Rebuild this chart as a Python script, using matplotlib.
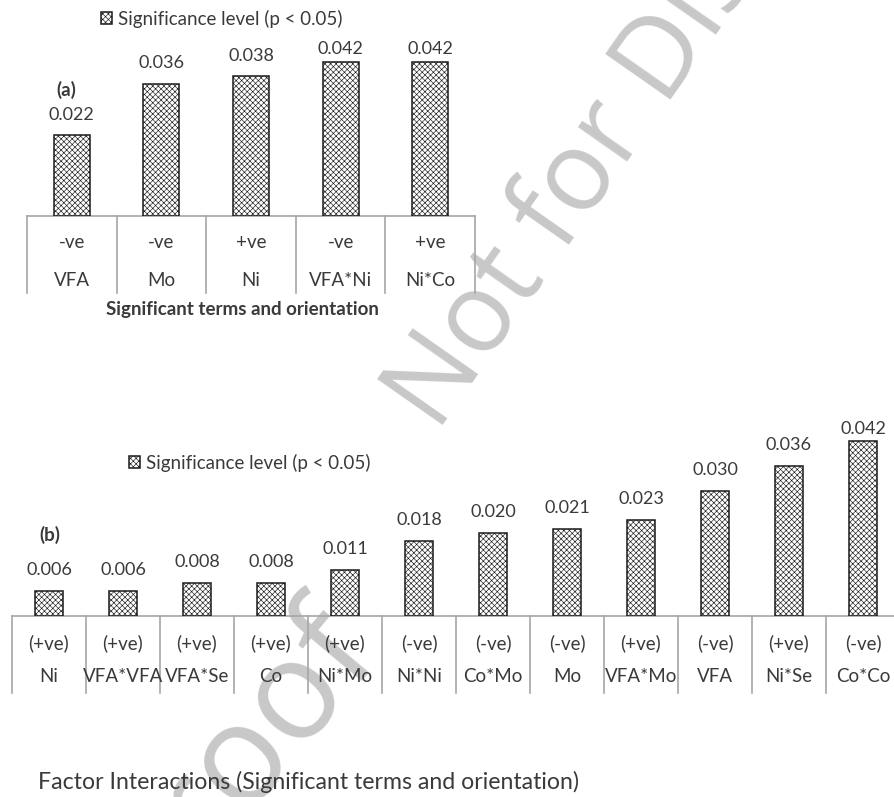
import matplotlib
matplotlib.use('Agg')
import matplotlib.pyplot as plt
import matplotlib.transforms as mtransforms

# ---------------- data ----------------
terms_a = ['VFA', 'Mo', 'Ni', 'VFA*Ni', 'Ni*Co']
signs_a = ['-ve', '-ve', '+ve', '-ve', '+ve']
pvals_a = [0.022, 0.036, 0.038, 0.042, 0.042]

terms_b = ['Ni', 'VFA*VFA', 'VFA*Se', 'Co', 'Ni*Mo', 'Ni*Ni', 'Co*Mo', 'Mo',
           'VFA*Mo', 'VFA', 'Ni*Se', 'Co*Co']
signs_b = ['(+ve)', '(+ve)', '(+ve)', '(+ve)', '(+ve)', '(-ve)', '(-ve)', '(-ve)',
           '(+ve)', '(-ve)', '(+ve)', '(-ve)']
pvals_b = [0.006, 0.006, 0.008, 0.008, 0.011, 0.018, 0.020, 0.021, 0.023,
           0.030, 0.036, 0.042]

legend_label = 'Significance level (p < 0.05)'
title_a = 'Significant terms and orientation'
title_bottom = 'Factor Interactions (Significant terms and orientation)'

# ---------------- style ----------------
plt.rcParams['font.family'] = ['Lato', 'DejaVu Sans']
plt.rcParams['hatch.linewidth'] = 0.45
plt.rcParams['hatch.color'] = '#2a2a2a'
TXT = '#3a3a3a'
GRID = '#a6a6a6'
FS = 13.5
FS_VAL = 13

W, H = 895, 797
fig = plt.figure(figsize=(W / 100, H / 100), dpi=100)


def px_axes(left, top, right, bottom):
    ax = fig.add_axes([left / W, 1 - bottom / H, (right - left) / W, (bottom - top) / H])
    ax.patch.set_visible(False)
    return ax, bottom - top


def fx(x):
    return x / W


def fy(y):
    return 1 - y / H


# watermark (behind everything)
wm = dict(color='#c8c8c8', family=['Open Sans', 'DejaVu Sans'], zorder=-5,
          rotation_mode='anchor', ha='left', va='baseline')
fig.text(fx(437), fy(433), 'Not for Distribution', fontsize=80, rotation=55, **wm)
fig.text(fx(150), fy(920), 'proof', fontsize=100, rotation=50, **wm)


def draw_panel(ax, h_px, terms, signs, vals, ymax, bar_w, pad_px, row1, row2, bottom_px):
    x = list(range(len(terms)))
    bars = ax.bar(x, vals, width=bar_w, color='white', edgecolor='#1a1a1a',
                  linewidth=1.1, hatch='xxxxxx', zorder=3)
    ax.set_xlim(-0.5, len(terms) - 0.5)
    ax.set_ylim(0, ymax)
    for s in ['top', 'right', 'left']:
        ax.spines[s].set_visible(False)
    ax.spines['bottom'].set_color(GRID)
    ax.spines['bottom'].set_linewidth(1.2)
    ax.set_xticks([])
    ax.set_yticks([])
    unit = ymax / h_px
    cap = ymax - 9.5 * unit
    for xi, v in zip(x, vals):
        ax.text(xi, min(v + pad_px * unit, cap), f'{v:.3f}', ha='center', va='center',
                fontsize=FS_VAL, color=TXT)
    blend = mtransforms.blended_transform_factory(ax.transData, ax.transAxes)
    for i in range(len(terms) + 1):
        ax.plot([i - 0.5, i - 0.5], [0, -bottom_px / h_px], transform=blend,
                color=GRID, lw=1.2, clip_on=False, zorder=2)
    for xi, s, t in zip(x, signs, terms):
        ax.text(xi, -row1 / h_px, s, transform=blend, ha='center', va='center',
                fontsize=FS, color=TXT)
        ax.text(xi, -row2 / h_px, t, transform=blend, ha='center', va='center',
                fontsize=FS, color=TXT)
    return bars


# ---------------- panel (a) ----------------
ax_a, h_a = px_axes(27, 39.5, 475, 216)
bars_a = draw_panel(ax_a, h_a, terms_a, signs_a, pvals_a, 0.048, 0.4, 20.5,
                    26, 64, 77)
fig.legend(handles=[bars_a], labels=[legend_label], loc='center left',
           bbox_to_anchor=(fx(101), fy(19)), frameon=False, fontsize=FS,
           handlelength=0.6, handleheight=0.6, handletextpad=0.3,
           borderpad=0, borderaxespad=0, labelcolor=TXT)
fig.text(fx(66), fy(90), '(a)', fontsize=FS, fontweight='bold', color=TXT,
         ha='center', va='center')
fig.text(fx(242), fy(310), title_a, fontsize=FS, fontweight='bold', color=TXT,
         ha='center', va='center')

# ---------------- panel (b) ----------------
ax_b, h_b = px_axes(12, 419, 900, 616)
bars_b = draw_panel(ax_b, h_b, terms_b, signs_b, pvals_b, 0.0473, 0.38, 21,
                    27.5, 61, 77)
fig.legend(handles=[bars_b], labels=[legend_label], loc='center left',
           bbox_to_anchor=(fx(129), fy(463)), frameon=False, fontsize=FS,
           handlelength=0.6, handleheight=0.6, handletextpad=0.3,
           borderpad=0, borderaxespad=0, labelcolor=TXT)
fig.text(fx(49.5), fy(535), '(b)', fontsize=FS, fontweight='bold', color=TXT,
         ha='center', va='center')

fig.text(fx(38), fy(782), title_bottom, fontsize=16.7, color=TXT,
         ha='left', va='center')

fig.savefig('out.png', dpi=100)
